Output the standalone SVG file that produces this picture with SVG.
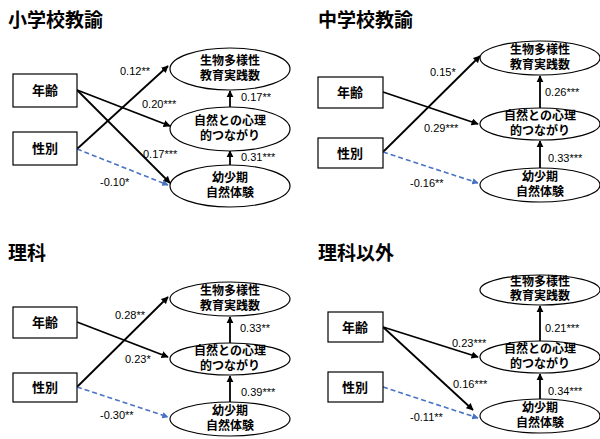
<svg xmlns="http://www.w3.org/2000/svg" width="600" height="439" viewBox="0 0 600 439">
<style>
.t{font-family:"Liberation Sans","Noto Sans CJK JP",sans-serif;font-size:19px;font-weight:bold;fill:#000}
.b{font-family:"Liberation Sans","Noto Sans CJK JP",sans-serif;font-size:13px;font-weight:bold;text-anchor:middle;fill:#000}
.e{font-family:"Liberation Sans","Noto Sans CJK JP",sans-serif;font-size:12px;font-weight:bold;text-anchor:middle;fill:#000}
.l{font-family:"Liberation Sans","Noto Sans CJK JP",sans-serif;font-size:11px;fill:#000}
rect,ellipse{fill:#fff;stroke:#000;stroke-width:1.2}
.a{stroke:#000;stroke-width:1.8;fill:none;marker-end:url(#m)}
.d{stroke:#4a72c4;stroke-width:1.6;stroke-dasharray:5,3;fill:none;marker-end:url(#mb)}
</style>
<defs>
<marker id="m" viewBox="0 0 10 10" refX="9" refY="5" markerWidth="4" markerHeight="4" orient="auto"><path d="M0,0L10,5L0,10z" fill="#000"/></marker>
<marker id="mb" viewBox="0 0 10 10" refX="9" refY="5" markerWidth="4" markerHeight="4" orient="auto"><path d="M0,0L10,5L0,10z" fill="#4a72c4"/></marker>
</defs>
<text class="t" x="8" y="27">小学校教諭</text>
<text class="t" x="318" y="27">中学校教諭</text>
<text class="t" x="8" y="260">理科</text>
<text class="t" x="318" y="260">理科以外</text>
<g id="connectors">
<path class="a" d="M77,90L170,126"/><path class="a" d="M77,90L170,183"/><path class="a" d="M77,149L168,66"/><path class="d" d="M77,149L168,185"/>
<path class="a" d="M230,165L230,151"/><path class="a" d="M230,107L230,91"/>
<path class="a" d="M383,92L478,124"/><path class="a" d="M383,152L480,56"/><path class="d" d="M383,152L478,183"/>
<path class="a" d="M540,168L540,141"/><path class="a" d="M540,108L540,76"/>
<path class="a" d="M77,322L168,357"/><path class="a" d="M77,387L168,297"/><path class="d" d="M77,387L168,417"/>
<path class="a" d="M230,402L230,376"/><path class="a" d="M230,343L230,317"/>
<path class="a" d="M383,327L478,357"/><path class="a" d="M383,327L473,410"/><path class="d" d="M383,387L478,418"/>
<path class="a" d="M540,399L540,374"/><path class="a" d="M540,341L540,306"/>
</g>
<g id="labels">
<text class="l" x="120" y="75">0.12**</text><text class="l" x="142" y="108">0.20***</text><text class="l" x="143" y="158">0.17***</text><text class="l" x="100" y="186">-0.10*</text><text class="l" x="241" y="101">0.17**</text><text class="l" x="241" y="161">0.31***</text>
<text class="l" x="430" y="76">0.15*</text><text class="l" x="424" y="132">0.29***</text><text class="l" x="410" y="187">-0.16**</text><text class="l" x="545" y="96">0.26***</text><text class="l" x="548" y="162">0.33***</text>
<text class="l" x="115" y="319">0.28**</text><text class="l" x="125" y="363">0.23*</text><text class="l" x="100" y="419">-0.30**</text><text class="l" x="240" y="332">0.33**</text><text class="l" x="241" y="396">0.39***</text>
<text class="l" x="452" y="347">0.23***</text><text class="l" x="453" y="388">0.16***</text><text class="l" x="410" y="421">-0.11**</text><text class="l" x="545" y="332">0.21***</text><text class="l" x="548" y="395">0.34***</text>
</g>
<g id="tl-age"><rect x="13" y="74" width="64" height="33"/><text class="b" x="45" y="95">年齢</text></g>
<g id="tl-sex"><rect x="13" y="132" width="64" height="33"/><text class="b" x="45" y="153">性別</text></g>
<g id="tl-edu"><ellipse cx="230" cy="69" rx="60" ry="21"/><text class="e" x="230" y="65">生物多様性</text><text class="e" x="230" y="80">教育実践数</text></g>
<g id="tl-psy"><ellipse cx="230" cy="129" rx="60" ry="22"/><text class="e" x="230" y="125">自然との心理</text><text class="e" x="230" y="140">的つながり</text></g>
<g id="tl-exp"><ellipse cx="230" cy="186" rx="60" ry="21"/><text class="e" x="230" y="182">幼少期</text><text class="e" x="230" y="197">自然体験</text></g>
<g id="tr-age"><rect x="318" y="77" width="65" height="31"/><text class="b" x="350" y="97">年齢</text></g>
<g id="tr-sex"><rect x="318" y="138" width="65" height="30"/><text class="b" x="350" y="158">性別</text></g>
<g id="tr-edu"><ellipse cx="540" cy="58" rx="60" ry="17"/><text class="e" x="540" y="54">生物多様性</text><text class="e" x="540" y="69">教育実践数</text></g>
<g id="tr-psy"><ellipse cx="540" cy="124" rx="60" ry="16"/><text class="e" x="540" y="120">自然との心理</text><text class="e" x="540" y="135">的つながり</text></g>
<g id="tr-exp"><ellipse cx="540" cy="185" rx="60" ry="17"/><text class="e" x="540" y="181">幼少期</text><text class="e" x="540" y="196">自然体験</text></g>
<g id="bl-age"><rect x="13" y="307" width="64" height="31"/><text class="b" x="45" y="327">年齢</text></g>
<g id="bl-sex"><rect x="13" y="373" width="64" height="29"/><text class="b" x="45" y="392">性別</text></g>
<g id="bl-edu"><ellipse cx="230" cy="299" rx="60" ry="17"/><text class="e" x="230" y="295">生物多様性</text><text class="e" x="230" y="310">教育実践数</text></g>
<g id="bl-psy"><ellipse cx="230" cy="359" rx="60" ry="16"/><text class="e" x="230" y="355">自然との心理</text><text class="e" x="230" y="370">的つながり</text></g>
<g id="bl-exp"><ellipse cx="230" cy="419" rx="60" ry="17"/><text class="e" x="230" y="415">幼少期</text><text class="e" x="230" y="430">自然体験</text></g>
<g id="br-age"><rect x="328" y="312" width="55" height="30"/><text class="b" x="355" y="332">年齢</text></g>
<g id="br-sex"><rect x="328" y="372" width="55" height="30"/><text class="b" x="355" y="392">性別</text></g>
<g id="br-edu"><ellipse cx="540" cy="290" rx="60" ry="15"/><text class="e" x="540" y="286">生物多様性</text><text class="e" x="540" y="300">教育実践数</text></g>
<g id="br-psy"><ellipse cx="540" cy="357" rx="60" ry="16"/><text class="e" x="540" y="353">自然との心理</text><text class="e" x="540" y="368">的つながり</text></g>
<g id="br-exp"><ellipse cx="540" cy="416" rx="60" ry="17"/><text class="e" x="540" y="412">幼少期</text><text class="e" x="540" y="427">自然体験</text></g>
</svg>
